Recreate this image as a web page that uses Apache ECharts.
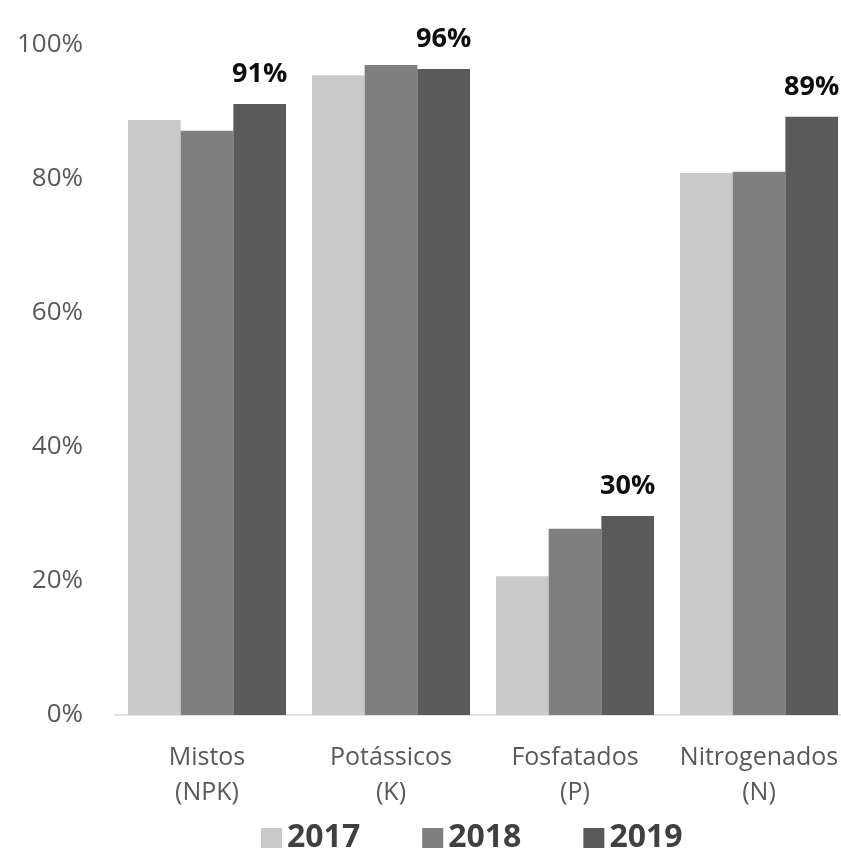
<!DOCTYPE html>
<html>
<head>
<meta charset="utf-8">
<script src="https://cdn.jsdelivr.net/npm/echarts@6/dist/echarts.min.js"></script>
<style>
  html, body { margin: 0; padding: 0; background: #fff; }
  #chart { width: 841px; height: 849px; }
</style>
</head>
<body>
<div id="chart"></div>
<script>
// Fertiliser groups (two-line labels) and share per year, in percent
const categories = ['Mistos\n(NPK)', 'Potássicos\n(K)', 'Fosfatados\n(P)', 'Nitrogenados\n(N)'];
const years = ['2017', '2018', '2019'];
const values2017 = [88.8, 95.5, 20.7, 80.9];
const values2018 = [87.2, 97.0, 27.8, 81.1];
const values2019 = [91.2, 96.4, 29.7, 89.3];
const yTicks = [0, 20, 40, 60, 80, 100];

const colors = ['#c9c9c9', '#7f7f7f', '#5a5a5a'];
const fontFamily = '"Open Sans", "Noto Sans", sans-serif';

const chart = echarts.init(document.getElementById('chart'), null, { renderer: 'canvas' });

function barSeries(name, data, color, withLabel) {
  return {
    name: name,
    type: 'bar',
    data: data,
    barGap: '0%',
    barCategoryGap: '14.1%',
    itemStyle: { color: color },
    label: {
      show: withLabel,
      position: 'top',
      distance: 16,
      fontFamily: fontFamily,
      fontWeight: 'bold',
      fontSize: 27,
      color: '#0d0d0d',
      formatter: p => Math.round(p.value) + '%'
    },
    emphasis: { disabled: true }
  };
}

chart.setOption({
  animation: false,
  backgroundColor: '#ffffff',
  // the plot runs slightly past the right edge of the canvas
  grid: { left: 115, top: 45, width: 736, height: 670, containLabel: false, outerBoundsMode: 'none' },
  legend: {
    data: years,
    left: 256,
    top: 817,
    itemWidth: 21,
    itemHeight: 20,
    itemGap: 62,
    icon: 'rect',
    textStyle: {
      fontFamily: fontFamily,
      fontWeight: 'bold',
      fontSize: 32,
      color: '#404040'
    },
    selectedMode: false
  },
  xAxis: {
    type: 'category',
    data: categories,
    axisLine: { show: true, lineStyle: { color: '#d9d9d9', width: 1.5 } },
    axisTick: { show: false },
    axisLabel: {
      margin: 25,
      fontFamily: fontFamily,
      fontSize: 25,
      lineHeight: 35,
      color: '#595959',
      interval: 0
    }
  },
  yAxis: {
    type: 'value',
    min: yTicks[0],
    max: yTicks[yTicks.length - 1],
    interval: yTicks[1] - yTicks[0],
    axisLine: { show: false },
    axisTick: { show: false },
    splitLine: { show: false },
    axisLabel: {
      margin: 32,
      fontFamily: fontFamily,
      fontSize: 26,
      color: '#595959',
      formatter: '{value}%'
    }
  },
  series: [
    barSeries(years[0], values2017, colors[0], false),
    barSeries(years[1], values2018, colors[1], false),
    barSeries(years[2], values2019, colors[2], true)
  ]
});
</script>
</body>
</html>
